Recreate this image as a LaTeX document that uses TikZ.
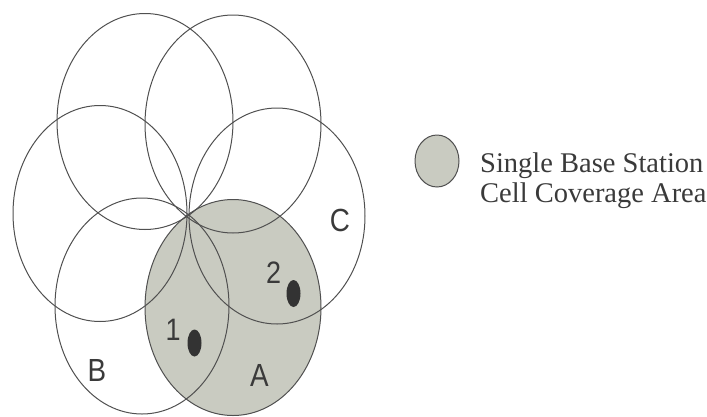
\documentclass[tikz,border=0pt]{standalone}
\usepackage{fontspec}
\setmainfont{Liberation Serif}
\newfontfamily\lsans{Liberation Sans}
\definecolor{cellfill}{HTML}{C9CBC1}
\definecolor{cellline}{HTML}{505050}
\definecolor{dotcol}{HTML}{333333}
\definecolor{txtcol}{HTML}{3A3A3A}
\begin{document}
\begin{tikzpicture}[x=1pt,y=-1pt,
  cell/.style={draw=cellline,line width=1pt},
  lab/.style={inner sep=0pt,text=txtcol,font=\lsans\fontsize{32}{32}\selectfont,xscale=0.87},
  num/.style={inner sep=0pt,text=txtcol,font=\lsans\fontsize{31}{31}\selectfont,xscale=0.87},
  leg/.style={inner sep=0pt,anchor=base west,text=txtcol,font=\fontsize{28.5}{30}\selectfont}]
\useasboundingbox (0,0) rectangle (707,416);
% coverage area A
\fill[cellfill] (233,307.5) ellipse [x radius=88, y radius=108];
% six cells
\draw[cell] (277,216) ellipse [x radius=88, y radius=108];   % C
\draw[cell] (233,307.5) ellipse [x radius=88, y radius=108]; % A
\draw[cell] (142,306) ellipse [x radius=87, y radius=108];   % B
\draw[cell] (100,213.5) ellipse [x radius=87, y radius=108];
\draw[cell] (145,121.5) ellipse [x radius=88, y radius=108];
\draw[cell] (233,124) ellipse [x radius=88, y radius=109];
% mobile positions
\fill[dotcol] (194.5,343) ellipse [x radius=7, y radius=13.5];
\fill[dotcol] (293.5,293.5) ellipse [x radius=7, y radius=13.5];
\node[num] (n1) at (173,330) {1};
\node[num] (n2) at (273.5,273) {2};
\node[lab] (lA) at (259.5,375) {A};
\node[lab] (lB) at (97,370) {B};
\node[lab] (lC) at (340,220) {C};
% legend
\filldraw[fill=cellfill,draw=cellline,line width=1pt] (437,161) ellipse [x radius=22, y radius=26];
\node[leg] (t1) at (480,172) {Single Base Station};
\node[leg] (t2) at (480,202) {Cell Coverage Area};
\end{tikzpicture}
\end{document}
